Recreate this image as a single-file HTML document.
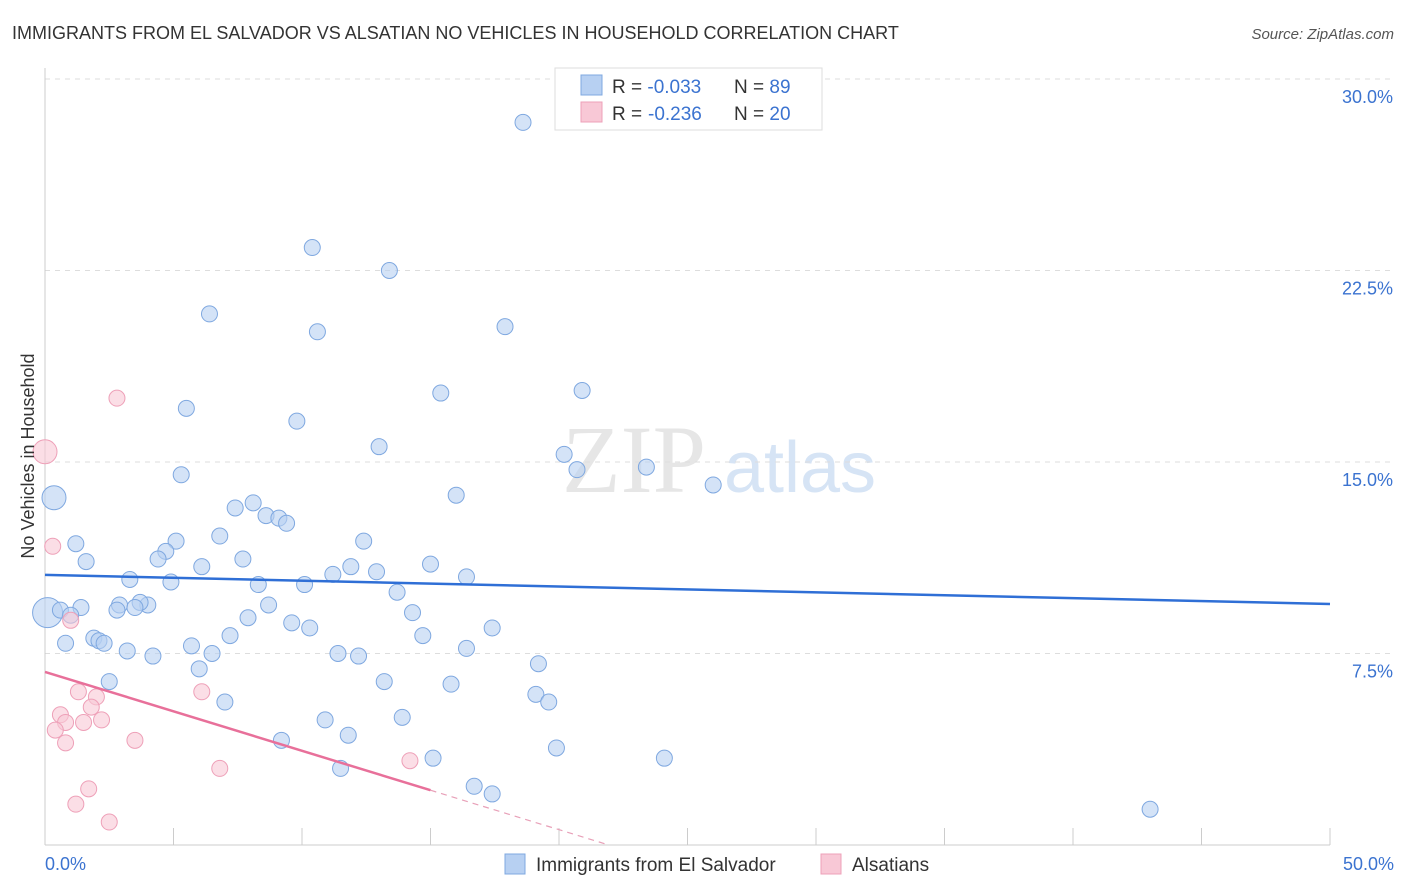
<!DOCTYPE html>
<html><head><meta charset="utf-8"><style>
body{margin:0;background:#fff;font-family:"Liberation Sans",sans-serif;}
svg{display:block}
</style></head><body>
<svg id="chart" width="1406" height="892">
<text x="12" y="39" font-size="18" fill="#333">IMMIGRANTS FROM EL SALVADOR VS ALSATIAN NO VEHICLES IN HOUSEHOLD CORRELATION CHART</text>
<text x="1394" y="39" font-size="15" fill="#555" font-style="italic" text-anchor="end">Source: ZipAtlas.com</text>
<text x="634" y="492" font-size="96" fill="#e6e6e6" font-family="Liberation Serif,serif" text-anchor="middle">ZIP</text>
<text x="800" y="492" font-size="72" fill="#d6e4f5" text-anchor="middle">atlas</text>
<g id="grid"></g><g id="axes"></g><g id="marks"></g>
<text transform="translate(34,456) rotate(-90)" font-size="18" fill="#333" text-anchor="middle">No Vehicles in Household</text>
<text x="45" y="870" font-size="18" fill="#3b73d0">0.0%</text>
<text x="1394" y="870" font-size="18" fill="#3b73d0" text-anchor="end">50.0%</text>
<g>
<rect x="555" y="68" width="267" height="62" fill="#fff" stroke="#ddd"/>
<rect x="581" y="75" width="21" height="20" fill="#b7d0f2" stroke="#7fa8e0"/>
<rect x="581" y="102" width="21" height="20" fill="#f8c8d6" stroke="#eea0b8"/>
<text x="612" y="93" font-size="19" fill="#333">R = <tspan fill="#3b73d0">-0.033</tspan><tspan x="734">N = </tspan><tspan fill="#3b73d0">89</tspan></text>
<text x="612" y="120" font-size="19" fill="#333">R = <tspan fill="#3b73d0" x="648">-0.236</tspan><tspan x="734">N = </tspan><tspan fill="#3b73d0">20</tspan></text>
</g>
<g>
<rect x="505" y="854" width="20" height="20" fill="#b7d0f2" stroke="#7fa8e0"/>
<text x="536" y="871" font-size="19" fill="#333">Immigrants from El Salvador</text>
<rect x="821" y="854" width="20" height="20" fill="#f8c8d6" stroke="#eea0b8"/>
<text x="852" y="871" font-size="19" fill="#333">Alsatians</text>
</g>
</svg>
<script>
const yTicks=[7.5,15,22.5,30];
const yTickLabels=["7.5%","15.0%","22.5%","30.0%"];
const xTicks=[0,5,10,15,20,25,30,35,40,45,50];
const blueX=[18.6,10.4,13.4,6.4,10.6,17.9,15.4,20.9,5.5,9.8,13.0,20.2,20.7,23.4,5.3,26.0,16.0,0.35,8.1,7.4,8.6,9.1,9.4,6.8,5.1,12.4,1.2,4.7,4.4,7.7,1.6,15.0,11.9,6.1,12.9,11.2,16.4,3.3,4.9,8.3,10.1,13.7,0.1,0.6,1.4,2.9,4.0,3.7,3.5,2.8,1.0,8.7,7.9,14.3,9.6,10.3,17.4,7.2,14.7,1.9,2.1,2.3,0.8,5.7,6.5,3.2,4.2,11.4,12.2,16.4,19.2,6.0,2.5,13.2,15.8,19.1,19.6,7.0,13.9,10.9,11.8,19.9,9.2,15.1,24.1,11.5,16.7,17.4,43.0];
const blueY=[28.3,23.4,22.5,20.8,20.1,20.3,17.7,17.8,17.1,16.6,15.6,15.3,14.7,14.8,14.5,14.1,13.7,13.6,13.4,13.2,12.9,12.8,12.6,12.1,11.9,11.9,11.8,11.5,11.2,11.2,11.1,11.0,10.9,10.9,10.7,10.6,10.5,10.4,10.3,10.2,10.2,9.9,9.1,9.2,9.3,9.4,9.4,9.5,9.3,9.2,9.0,9.4,8.9,9.1,8.7,8.5,8.5,8.2,8.2,8.1,8.0,7.9,7.9,7.8,7.5,7.6,7.4,7.5,7.4,7.7,7.1,6.9,6.4,6.4,6.3,5.9,5.6,5.6,5.0,4.9,4.3,3.8,4.1,3.4,3.4,3.0,2.3,2.0,1.4];
const pinkX=[0.0,0.3,2.8,1.0,1.3,2.0,1.8,0.6,2.2,1.5,0.8,0.4,0.8,3.5,6.1,6.8,14.2,1.7,1.2,2.5];
const pinkY=[15.4,11.7,17.5,8.8,6.0,5.8,5.4,5.1,4.9,4.8,4.8,4.5,4.0,4.1,6.0,3.0,3.3,2.2,1.6,0.9];
const blueTrend=[10.58,9.44];
const pinkTrend=[6.78,-0.309];
const X0=45,X1=1330,Y0=845,Y30=79;
const sx=v=>X0+v/50*(X1-X0), sy=v=>Y0-v/30*(Y0-Y30);
const NS="http://www.w3.org/2000/svg";
function mk(t,a,p){const e=document.createElementNS(NS,t);for(const k in a)e.setAttribute(k,a[k]);p.appendChild(e);return e;}
const grid=document.getElementById('grid'),axes=document.getElementById('axes'),marks=document.getElementById('marks');
yTicks.forEach((v,i)=>{
 const l=mk('line',{x1:X0,x2:1394,y1:sy(v),y2:sy(v),stroke:'#ddd','stroke-dasharray':'5,5'},grid);
 
 
 const t=mk('text',{x:1393,y:sy(v)+24,'font-size':18,fill:'#3b73d0','text-anchor':'end'},grid);
 t.textContent=yTickLabels[i];
 
 
});
const ya=mk('line',{x1:X0,x2:X0,y1:68,y2:Y0,stroke:'#ccc'},axes);


const xa=mk('line',{x1:X0,x2:X1,y1:Y0,y2:Y0,stroke:'#ccc'},axes);


xTicks.forEach(v=>{
 const t=mk('line',{x1:sx(v),x2:sx(v),y1:828,y2:Y0,stroke:'#ccc'},axes);
 
 
});
function dot(x,y,r,fill,stroke,name){
 const c=mk('circle',{cx:sx(x),cy:sy(y),r:r,fill:fill,stroke:stroke,'stroke-width':1,'fill-opacity':0.6},marks);
 
 
}
blueX.forEach((x,i)=>{const r=(i===17)?12:(i===42?15:8);dot(x,blueY[i],r,'#b7d0f2','#7fa8e0','blue-point');});
pinkX.forEach((x,i)=>{dot(x,pinkY[i],i===0?12:8,'#f8c8d6','#eea0b8','pink-point');});
const bl=mk('line',{x1:sx(0),y1:sy(blueTrend[0]),x2:sx(50),y2:sy(blueTrend[1]),stroke:'#2f6fd6','stroke-width':2.5},marks);


const pe=15, pz=-pinkTrend[0]/pinkTrend[1];
const pl=mk('line',{x1:sx(0),y1:sy(pinkTrend[0]),x2:sx(pe),y2:sy(pinkTrend[0]+pinkTrend[1]*pe),stroke:'#e8709a','stroke-width':2.5},marks);


const pd=mk('line',{x1:sx(pe),y1:sy(pinkTrend[0]+pinkTrend[1]*pe),x2:sx(pz),y2:sy(0),stroke:'#e8a0b8','stroke-width':1.2,'stroke-dasharray':'6,5'},marks);


</script>
</body></html>
